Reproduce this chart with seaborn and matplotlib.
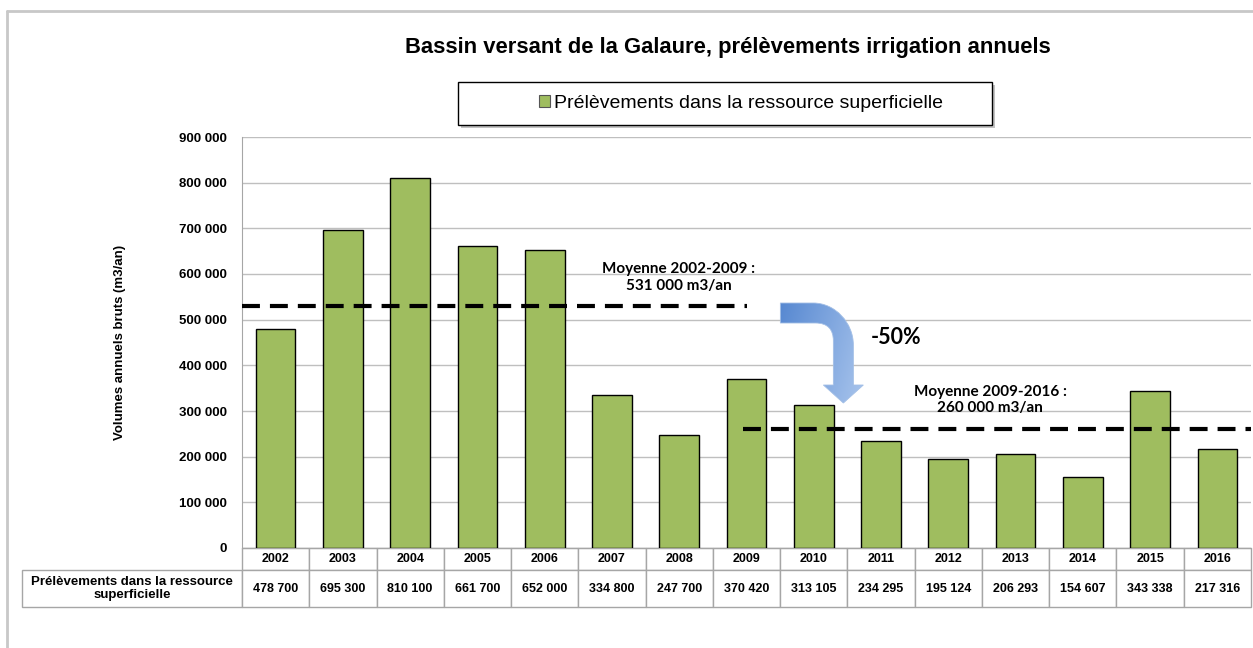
import numpy as np
import matplotlib
matplotlib.use('Agg')
import matplotlib.pyplot as plt
import seaborn as sns
from matplotlib.patches import PathPatch, Rectangle
from matplotlib.path import Path
from matplotlib.transforms import IdentityTransform
from matplotlib.colors import LinearSegmentedColormap
from matplotlib.ticker import FuncFormatter

# --- Data ---
years = ['2002', '2003', '2004', '2005', '2006', '2007', '2008', '2009',
         '2010', '2011', '2012', '2013', '2014', '2015', '2016']
volumes = [478700, 695300, 810100, 661700, 652000, 334800, 247700, 370420,
           313105, 234295, 195124, 206293, 154607, 343338, 217316]
series_name = 'Prélèvements dans la ressource superficielle'
table_header = 'Prélèvements dans la ressource\nsuperficielle'
mean_values = [531000, 260000]
mean_spans = [(-0.5, 7.0), (6.95, 14.5)]
mean_labels = ['Moyenne 2002-2009 :\n531 000 m3/an', 'Moyenne 2009-2016 :\n260 000 m3/an']

sns.set_style('white')
plt.rcParams['font.family'] = ['Liberation Sans', 'DejaVu Sans']
plt.rcParams['text.color'] = 'black'
plt.rcParams['axes.labelcolor'] = 'black'
plt.rcParams['ytick.color'] = 'black'

W, H = 1253, 648
fig = plt.figure(figsize=(W / 100, H / 100), dpi=100)
ax = fig.add_axes([242 / W, 1 - 548 / H, 1009 / W, 411 / H])

# --- Bars ---
sns.barplot(x=years, y=volumes, color='#9fbd5f', saturation=1, width=0.59,
            edgecolor='black', linewidth=1, ax=ax, zorder=3)

ax.set_xlim(-0.5, 14.5)
ax.set_ylim(0, 900000)
ax.set_yticks(np.arange(0, 900001, 100000))
ax.yaxis.set_major_formatter(FuncFormatter(lambda v, p: f'{int(v):,}'.replace(',', ' ')))
ax.grid(axis='y', color='#bfbfbf', linewidth=1, zorder=0)
ax.set_axisbelow(True)
ax.tick_params(axis='y', length=8, color='#a6a6a6', labelcolor='black', labelsize=9.5, pad=3)
for lab in ax.get_yticklabels():
    lab.set_fontweight('bold')
ax.set_xticks([])
ax.set_xlabel('')
ax.set_ylabel('Volumes annuels bruts (m3/an)', fontsize=9.5, fontweight='bold', labelpad=38)
for s in ['top', 'right']:
    ax.spines[s].set_visible(False)
ax.spines['left'].set_color('#a6a6a6')
ax.spines['bottom'].set_color('#a6a6a6')

# --- Mean lines ---
for m, (x0, x1) in zip(mean_values, mean_spans):
    ax.plot([x0, x1], [m, m], color='black', linewidth=3,
            linestyle=(0, (4.3, 2.4)), zorder=4, solid_capstyle='butt')

ax.text(5.99, 593000, mean_labels[0], ha='center', va='center', fontsize=11,
        fontweight='bold', family=['Lato', 'DejaVu Sans'], linespacing=1.25)
ax.text(10.62, 324000, mean_labels[1], ha='center', va='center', fontsize=11,
        fontweight='bold', family=['Lato', 'DejaVu Sans'], linespacing=1.25)
ax.text(9.23, 462000, '-50%', ha='center', va='center', fontsize=15.5,
        fontweight='bold', family=['Lato', 'DejaVu Sans'])

# --- Bent arrow (shape in pixel offsets from its tip), filled with a gradient ---
tx, ty = ax.transData.transform((8.44, 317500))
shape = [(-63, -100), (-30, -100), (-8, -100), (10, -80), (10, -58), (10, -18),
         (20, -18), (0, 0), (-20, -18), (-10, -18), (-10, -62), (-10, -74),
         (-16, -80), (-28, -80), (-63, -80), (-63, -80)]
codes = [Path.MOVETO, Path.LINETO, Path.CURVE4, Path.CURVE4, Path.CURVE4, Path.LINETO,
         Path.LINETO, Path.LINETO, Path.LINETO, Path.LINETO, Path.LINETO, Path.CURVE4,
         Path.CURVE4, Path.CURVE4, Path.LINETO, Path.CLOSEPOLY]
arrow = PathPatch(Path([(tx + dx, ty - dy) for dx, dy in shape], codes),
                  transform=IdentityTransform(), facecolor='none',
                  edgecolor='#a3bfe6', linewidth=0.6, zorder=5)
ax.add_patch(arrow)
gx, gy = np.meshgrid(np.linspace(0, 1, 128), np.linspace(0, 1, 128))
grad = 0.75 * gx + 0.25 * gy
cmap = LinearSegmentedColormap.from_list('blue_grad', ['#5486d0', '#adc8ee'])
im = ax.imshow(grad, extent=[7.45, 8.8, 300000, 540000], cmap=cmap,
               aspect='auto', origin='upper', zorder=4.5)
ax.set_xlim(-0.5, 14.5)
ax.set_ylim(0, 900000)
im.set_clip_path(arrow)

# --- Data table under the chart ---
left = (22 - 242) / 1009
tbl_h = 59 / 411
cell_text = [[''] + years,
             [table_header] + [f'{v:,}'.replace(',', ' ') for v in volumes]]
col_w = [220] + [1009 / 15] * 15
tbl = ax.table(cellText=cell_text, colWidths=col_w, cellLoc='center',
               bbox=[left, -tbl_h, 1 - left, tbl_h])
tbl.auto_set_font_size(False)
for (r, c), cell in tbl.get_celld().items():
    cell.set_edgecolor('#a6a6a6')
    cell.set_linewidth(1)
    cell.set_height(22 if r == 0 else 37)
    cell.get_text().set_fontsize(9.5 if (r, c) == (1, 0) else 9)
    cell.get_text().set_fontweight('bold')
    cell.get_text().set_color('black')
    if r == 0 and c == 0:
        cell.visible_edges = ''

# --- Title and legend ---
fig.text(728 / W, 1 - 48 / H, 'Bassin versant de la Galaure, prélèvements irrigation annuels',
         ha='center', va='center', fontsize=15.8, fontweight='bold', color='black')

bx0, by0, bx1, by1 = 458, 82, 992, 125
fig.patches.append(Rectangle((bx0 / W + 3 / W, 1 - by1 / H - 3 / H), (bx1 - bx0) / W, (by1 - by0) / H,
                             transform=fig.transFigure, facecolor='#9a9a9a', edgecolor='none',
                             alpha=0.6, zorder=1))
fig.patches.append(Rectangle((bx0 / W, 1 - by1 / H), (bx1 - bx0) / W, (by1 - by0) / H,
                             transform=fig.transFigure, facecolor='white', edgecolor='black',
                             linewidth=1, zorder=2))
handle = Rectangle((0, 0), 1, 1, facecolor='#9fbd5f', edgecolor='#555555', linewidth=0.8)
fig.legend([handle], [series_name], loc='center', bbox_to_anchor=(741 / W, 1 - 103.5 / H),
           frameon=False, fontsize=14, handlelength=0.6, handleheight=0.6, handletextpad=0.2,
           labelcolor='black')

# --- Outer border ---
fig.add_artist(plt.Line2D([7 / W, 7 / W], [0, 1 - 11 / H], color='#c8c8c8', linewidth=2,
                          transform=fig.transFigure))
fig.add_artist(plt.Line2D([7 / W, 1], [1 - 11 / H, 1 - 11 / H], color='#c8c8c8', linewidth=2,
                          transform=fig.transFigure))

fig.savefig('out.png', dpi=100)
